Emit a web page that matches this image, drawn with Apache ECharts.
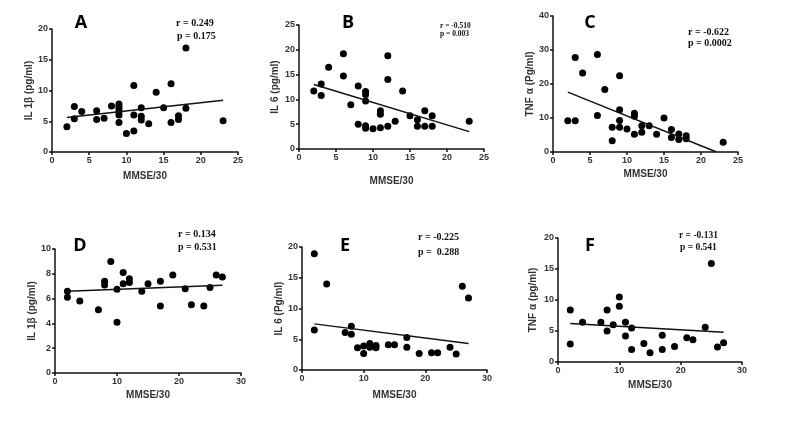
<!DOCTYPE html>
<html>
<head>
<meta charset="utf-8">
<script src="https://cdn.jsdelivr.net/npm/echarts@6/dist/echarts.min.js"></script>
<style>
html,body{margin:0;padding:0;background:#fff;}
#chart{width:800px;height:443px;}
</style>
</head>
<body>
<div id="chart"></div>
<script>
// ---- Data ----
const xA = [2,3,3,4,6,6,7,8,9,9,9,9,9,9,10,11,11,11,12,12,12,13,14,15,16,16,17,17,18,18,23];
const yA = [4.1,7.4,5.4,6.6,6.7,5.3,5.5,7.5,7.8,7.4,7.0,6.5,6.0,4.8,3.0,10.8,6.0,3.4,7.2,5.8,5.2,4.6,9.7,7.2,11.1,4.8,5.9,5.3,16.9,7.1,5.1];
const fitAx = [2,23], fitAy = [5.6,8.4];

const xB = [2,3,3,4,6,6,7,8,8,9,9,9,9,9,10,11,11,11,12,12,12,13,14,15,16,16,17,17,18,18,23];
const yB = [11.7,13.1,10.8,16.5,19.2,14.7,8.9,12.7,5.0,11.6,11.0,9.7,4.7,4.2,4.1,7.7,7.0,4.3,18.8,14.0,4.6,5.6,11.7,6.7,5.9,4.6,7.7,4.6,6.7,4.6,5.6];
const fitBx = [2,23], fitBy = [13.0,3.5];

const xC = [2,3,3,4,6,6,7,8,8,9,9,9,9,10,11,11,11,12,12,13,14,15,16,16,17,17,18,18,23];
const yC = [9.2,27.8,9.2,23.2,28.7,10.7,18.4,7.3,3.3,22.4,12.4,9.3,7.3,6.8,11.4,10.5,5.2,7.7,5.8,7.7,5.2,10.0,6.6,4.3,5.3,3.7,4.8,3.9,2.9];
const fitCx = [2,22.1], fitCy = [17.6,0];

const xD = [2,2,4,7,8,8,9,10,10,11,11,12,12,14,15,17,17,19,21,22,24,25,26,27];
const yD = [6.6,6.1,5.8,5.1,7.4,7.1,9.0,6.75,4.1,8.1,7.2,7.6,7.3,6.6,7.2,7.4,5.4,7.9,6.8,5.5,5.4,6.9,7.9,7.75];
const fitDx = [2,27], fitDy = [6.6,7.08];

const xE = [2,2,4,7,8,8,9,10,10,11,11,12,12,14,15,17,17,19,21,22,24,25,26,27];
const yE = [18.9,6.5,14.0,6.1,7.1,5.8,3.6,3.9,2.7,4.3,3.7,4.0,3.6,4.1,4.1,5.3,3.7,2.7,2.8,2.8,3.7,2.6,13.6,11.7];
const fitEx = [2,27], fitEy = [7.5,4.3];

const xF = [2,2,4,7,8,8,9,10,10,11,11,12,12,14,15,17,17,19,21,22,24,25,26,27];
const yF = [8.4,2.9,6.4,6.4,8.4,5.0,6.0,10.5,9.0,6.4,4.2,5.5,2.0,3.0,1.5,4.3,2.0,2.5,3.9,3.6,5.6,15.9,2.4,3.1];
const fitFx = [2,27], fitFy = [6.2,4.8];

const panelLetters = ['A','B','C','D','E','F'];
const rTexts = ['r = 0.249','r = -0.510','r = -0.622','r = 0.134','r = -0.225','r = -0.131'];
const pTexts = ['p = 0.175','p = 0.003','p = 0.0002','p = 0.531','p =  0.288','p = 0.541'];
const xTitle = 'MMSE/30';
const yTitles = ['IL 1\u03b2 (pg/ml)','IL 6 (pg/ml)','TNF \u03b1 (Pg/ml)','IL 1\u03b2 (pg/ml)','IL 6 (Pg/ml)','TNF \u03b1 (pg/ml)'];
const xMax = [25,25,25,30,30,30], xStep = [5,5,5,10,10,10];
const yMax = [20,25,40,10,20,20], yStep = [5,5,10,2,5,5];

// ---- Layout ----
const grids = [
  {left:52, top:29, width:186, height:123},
  {left:299, top:25, width:185, height:124},
  {left:553, top:16, width:185, height:136},
  {left:55, top:249, width:186, height:124},
  {left:302, top:247, width:185, height:123},
  {left:558, top:238, width:184, height:124}
];
const xNameGap = [19,27,17,17,20,18];
const yNameGap = [17,19,18,18,18,20];
const letterPos = [[81,23],[348,23],[590,23],[80,246],[345,246],[590,246]];
const rPos = [[176,23],[440,26],[688,32],[178,234],[418,237],[679,236]];
const pPos = [[177,36],[440,34],[688,43],[178,247],[418,252],[680,248]];
const statFont = [10,7.5,10,10,10,9.5];

const xs = [xA,xB,xC,xD,xE,xF], ys = [yA,yB,yC,yD,yE,yF];
const fxs = [fitAx,fitBx,fitCx,fitDx,fitEx,fitFx], fys = [fitAy,fitBy,fitCy,fitDy,fitEy,fitFy];

const axisCommon = {
  axisLine:{onZero:false, lineStyle:{color:'#111', width:1.5}},
  axisTick:{show:true, inside:false, length:3, lineStyle:{color:'#111', width:1.5}},
  axisLabel:{color:'#333', fontSize:9, fontWeight:'bold', fontFamily:'Liberation Sans, Arial, sans-serif', margin:4},
  splitLine:{show:false},
  nameTextStyle:{color:'#333', fontSize:10, fontWeight:'bold', fontFamily:'Liberation Sans, Arial, sans-serif'}
};

const xAxis = [], yAxis = [], series = [], graphic = [];
for (let i = 0; i < 6; i++) {
  xAxis.push(Object.assign({}, axisCommon, {
    type:'value', gridIndex:i, min:0, max:xMax[i], interval:xStep[i],
    name:xTitle, nameLocation:'middle', nameGap:xNameGap[i]
  }));
  yAxis.push(Object.assign({}, axisCommon, {
    type:'value', gridIndex:i, min:0, max:yMax[i], interval:yStep[i],
    name:yTitles[i], nameLocation:'middle', nameGap:yNameGap[i]
  }));
  series.push({
    type:'scatter', xAxisIndex:i, yAxisIndex:i, symbol:'circle', symbolSize:7,
    itemStyle:{color:'#000', opacity:1}, silent:true,
    data: xs[i].map((x,k)=>[x, ys[i][k]])
  });
  series.push({
    type:'line', xAxisIndex:i, yAxisIndex:i, symbol:'none', silent:true,
    lineStyle:{color:'#111', width:1.5},
    data: fxs[i].map((x,k)=>[x, fys[i][k]])
  });
  graphic.push({type:'text', x:letterPos[i][0], y:letterPos[i][1], style:{
    text:panelLetters[i], fill:'#000', font:'bold 18px "Open Sans", "Liberation Sans", Arial, sans-serif',
    textAlign:'center', textVerticalAlign:'middle'}});
  graphic.push({type:'text', x:rPos[i][0], y:rPos[i][1], style:{
    text:rTexts[i], fill:'#111', font:'bold '+statFont[i]+'px "Liberation Serif", "Times New Roman", serif',
    textAlign:'left', textVerticalAlign:'middle'}});
  graphic.push({type:'text', x:pPos[i][0], y:pPos[i][1], style:{
    text:pTexts[i], fill:'#111', font:'bold '+statFont[i]+'px "Liberation Serif", "Times New Roman", serif',
    textAlign:'left', textVerticalAlign:'middle'}});
}

const chart = echarts.init(document.getElementById('chart'), null, {renderer:'canvas'});
chart.setOption({
  animation:false,
  backgroundColor:'#fff',
  grid: grids,
  xAxis, yAxis, series, graphic
});
</script>
</body>
</html>
